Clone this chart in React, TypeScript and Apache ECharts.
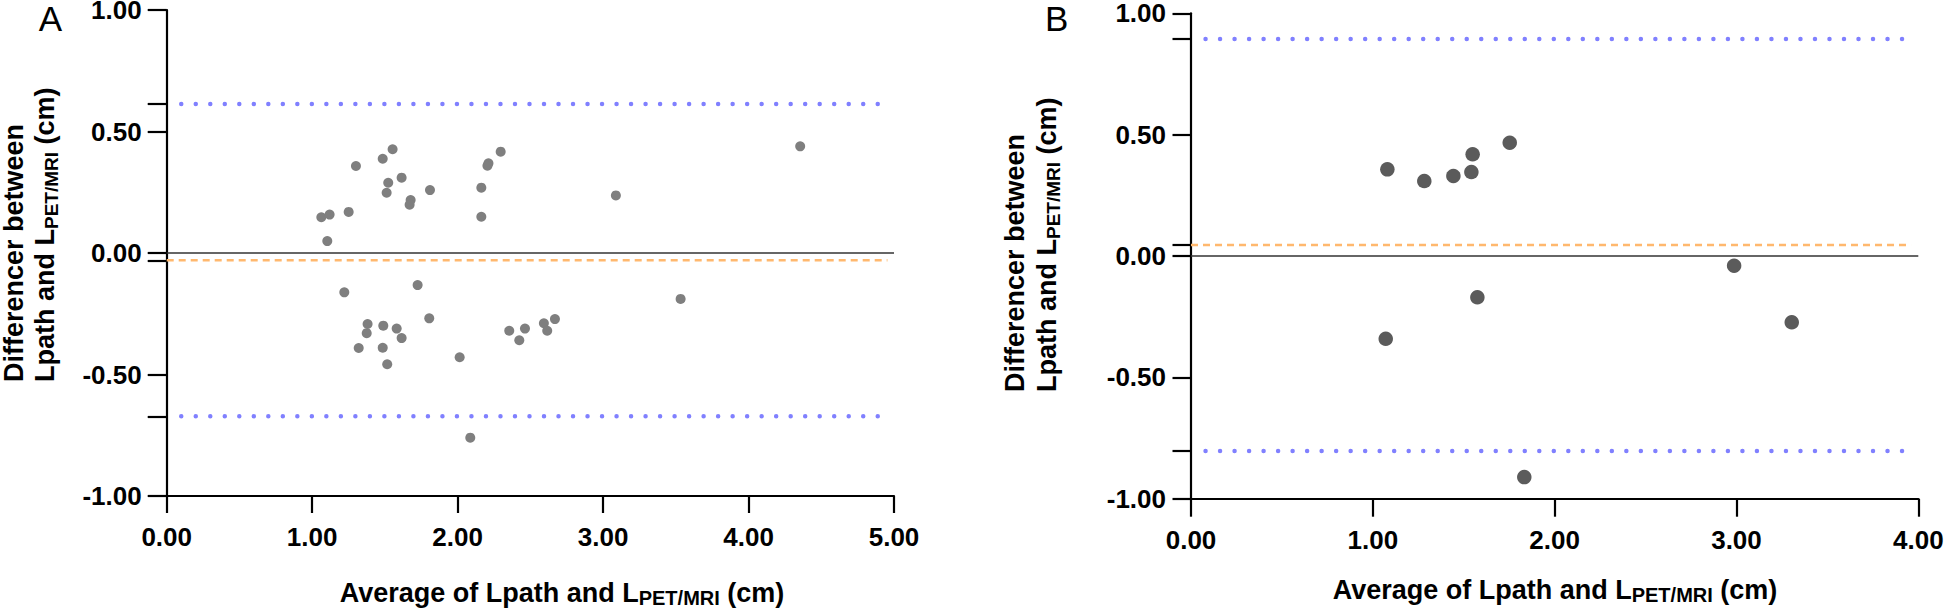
import React, { useEffect, useRef } from "react";
import * as echarts from "echarts";

const FONT = "'Liberation Sans', Arial, Helvetica, sans-serif";

// Panel A: [average, difference]
const panelAPoints: [number, number][] = [
  [1.063, 0.147], [1.12, 0.158], [1.104, 0.049], [1.251, 0.169], [1.301, 0.358],
  [1.485, 0.388], [1.553, 0.427], [1.523, 0.289], [1.512, 0.248], [1.615, 0.31],
  [1.677, 0.218], [1.67, 0.199], [1.81, 0.259], [2.163, 0.269], [2.163, 0.149],
  [2.212, 0.369], [2.205, 0.359], [2.296, 0.417], [3.088, 0.237], [4.355, 0.439],
  [1.221, -0.162], [1.725, -0.132], [1.805, -0.269], [1.381, -0.292], [1.375, -0.33],
  [1.32, -0.391], [1.489, -0.299], [1.485, -0.39], [1.516, -0.458], [1.581, -0.311],
  [1.615, -0.35], [2.014, -0.429], [2.087, -0.76], [3.533, -0.189], [2.669, -0.272],
  [2.593, -0.289], [2.616, -0.32], [2.355, -0.32], [2.463, -0.311], [2.424, -0.359],
];
const panelAMean = -0.03;
const panelAUpper = 0.613;
const panelALower = -0.672;
const panelAXMax = 5;

// Panel B: [average, difference]
const panelBPoints: [number, number][] = [
  [1.08, 0.357], [1.283, 0.309], [1.443, 0.33], [1.542, 0.346], [1.549, 0.419],
  [1.753, 0.467], [1.575, -0.17], [1.071, -0.341], [1.833, -0.911], [2.987, -0.04],
  [3.304, -0.273],
];
const panelBMean = 0.045;
const panelBUpper = 0.894;
const panelBLower = -0.803;
const panelBXMax = 4;

const yTicks = [-1, -0.5, 0, 0.5, 1];

const xTitle = "{a|Average of Lpath and L}{s|PET/MRI}{a| (cm)}";
const yTitle = "{a|Differencer between}\n{a|Lpath and L}{s|PET/MRI}{a| (cm)}";

function richTitle(lh: number, sub: number) {
  return {
    a: { fontSize: 27, fontWeight: "bold", fontFamily: FONT, fill: "#000", lineHeight: lh },
    s: { fontSize: sub, fontWeight: "bold", fontFamily: FONT, fill: "#000", lineHeight: 14, verticalAlign: "bottom" },
  };
}

function axesFor(idx: number, xMax: number, mean: number, upper: number, lower: number, xTick: number, yTick: number) {
  const labelStyle = { fontSize: 26, fontWeight: "bold", color: "#000", fontFamily: FONT, lineHeight: 20, formatter: (v: number) => v.toFixed(2) };
  const lineStyle = { color: "#000", width: 2.2 };
  return {
    x: {
      type: "value", gridIndex: idx, min: 0, max: xMax, interval: 1,
      axisLine: { show: true, onZero: false, lineStyle },
      axisTick: { show: true, length: xTick, lineStyle },
      axisLabel: { ...labelStyle, margin: 31 },
      splitLine: { show: false },
    },
    y: {
      type: "value", gridIndex: idx, min: -1, max: 1, interval: 0.5,
      axisLine: { show: true, onZero: false, lineStyle },
      axisTick: { show: true, length: yTick, lineStyle, customValues: [...yTicks, mean, upper, lower] },
      axisLabel: { ...labelStyle, margin: 25, padding: [5, 0, 0, 0] },
      splitLine: { show: false },
    },
  };
}

function linesFor(idx: number, xMax: number, mean: number, upper: number, lower: number, dotStart: number, dotEnd: number, meanEnd: number) {
  const base = { type: "line", xAxisIndex: idx, yAxisIndex: idx, symbol: "none", silent: true, z: 1 };
  const dotted = { color: "#8080FF", width: 4.5, type: [0.01, 14.5], cap: "round" };
  return [
    { ...base, data: [[0, 0], [xMax, 0]], lineStyle: { color: "#333", width: 1.6 } },
    { ...base, data: [[0, mean], [meanEnd, mean]], lineStyle: { color: "#FFB86E", width: 2.5, type: [7, 5] } },
    { ...base, data: [[dotStart, upper], [dotEnd, upper]], lineStyle: dotted },
    { ...base, data: [[dotStart, lower], [dotEnd, lower]], lineStyle: dotted },
  ];
}

export default function App() {
  const ref = useRef<HTMLDivElement>(null);
  useEffect(() => {
    if (!ref.current) return;
    const chart = echarts.init(ref.current, null, { renderer: "svg" });
    const a = axesFor(0, panelAXMax, panelAMean, panelAUpper, panelALower, 17, 19);
    const b = axesFor(1, panelBXMax, panelBMean, panelBUpper, panelBLower, 18, 18.5);
    chart.setOption({
      animation: false,
      backgroundColor: "#fff",
      grid: [
        { left: 166.7, top: 10, width: 727.3, height: 486, outerBoundsMode: "none" },
        { left: 1191, top: 13.3, width: 727.3, height: 485.4, outerBoundsMode: "none" },
      ],
      xAxis: [a.x, b.x],
      yAxis: [a.y, b.y],
      series: [
        ...linesFor(0, panelAXMax, panelAMean, panelAUpper, panelALower, 0.1, 4.91, 4.955),
        ...linesFor(1, panelBXMax, panelBMean, panelBUpper, panelBLower, 0.08, 3.925, 3.96),
        {
          type: "scatter", xAxisIndex: 0, yAxisIndex: 0, data: panelAPoints,
          symbolSize: 10, itemStyle: { color: "#7f7f7f", opacity: 1 }, z: 3,
        },
        {
          type: "scatter", xAxisIndex: 1, yAxisIndex: 1, data: panelBPoints,
          symbolSize: 14.5, itemStyle: { color: "#5b5b5b", opacity: 1 }, z: 3,
        },
      ],
      graphic: [
        { type: "text", x: 50.5, y: 18, style: { text: "A", fontSize: 35, lineHeight: 28, fontFamily: FONT, fill: "#000", align: "center", verticalAlign: "middle" } },
        { type: "text", x: 1056.7, y: 18, style: { text: "B", fontSize: 35, lineHeight: 28, fontFamily: FONT, fill: "#000", align: "center", verticalAlign: "middle" } },
        { type: "text", x: 562, y: 593, style: { text: xTitle, rich: richTitle(30, 20), align: "center", verticalAlign: "middle" } },
        { type: "text", x: 1555, y: 590, style: { text: xTitle, rich: richTitle(30, 20), align: "center", verticalAlign: "middle" } },
        { type: "text", x: 29.5, y: 382, rotation: Math.PI / 2, style: { text: yTitle, rich: richTitle(31, 19), align: "left", verticalAlign: "middle" } },
        { type: "text", x: 1031.4, y: 392, rotation: Math.PI / 2, style: { text: yTitle, rich: richTitle(32, 19), align: "left", verticalAlign: "middle" } },
      ],
    });
    return () => chart.dispose();
  }, []);
  return <div ref={ref} style={{ position: "fixed", left: 0, top: 0, width: 1944, height: 612 }} />;
}
